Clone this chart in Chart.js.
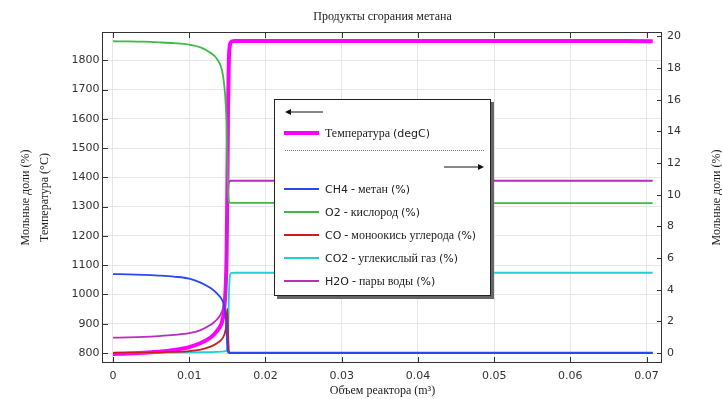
<!DOCTYPE html>
<html>
<head>
<meta charset="utf-8">
<script src="https://cdn.jsdelivr.net/npm/chart.js"></script>
<style>
body { margin: 0; background: #fff; }
#wrap { position: relative; width: 722px; height: 399px; }
#legend {
  position: absolute; left: 274px; top: 99px; width: 215px; height: 195px;
  background: #fff; border: 1px solid #222; box-shadow: 3px 3px 0 #666;
  font: 12px "Liberation Serif", serif; color: #222;
}
.row { position: absolute; left: 9px; height: 16px; display: flex; align-items: center; white-space: nowrap; }
.swatch { width: 35px; margin-right: 6px; }
.lat { font-family: "DejaVu Sans", sans-serif; font-size: 11px; }
.dots { position: absolute; left: 10px; width: 199px; top: 50px; border-top: 1px dotted #777; }
svg { position: absolute; }
</style>
</head>
<body>
<div id="wrap">
  <canvas id="chart" width="722" height="399"></canvas>
  <div id="legend"></div>
</div>
<script>
// reactor volume, m3
const volume = [0, 0.002, 0.004, 0.006, 0.008, 0.010, 0.0115, 0.0128, 0.0136, 0.0143, 0.0146, 0.0148,
  0.0149, 0.0150, 0.0151, 0.0152, 0.0153, 0.0154, 0.0156, 0.0160, 0.02, 0.03, 0.04, 0.05, 0.06, 0.0708];

// temperature, degC (left axis)
const temperature = [797, 798.5, 801, 804, 810, 820, 834, 853, 874, 906, 952, 1035,
  1130, 1350, 1650, 1800, 1845, 1858, 1864, 1866, 1866, 1866, 1866, 1866, 1866, 1865];

// mole fractions, % (right axis)
const ch4 = [4.98, 4.97, 4.94, 4.89, 4.82, 4.70, 4.45, 4.10, 3.78, 3.36, 2.95, 2.20,
  1.40, 0.35, 0.05, 0.01, 0, 0, 0, 0, 0, 0, 0, 0, 0, 0];
const o2 = [19.69, 19.68, 19.66, 19.62, 19.57, 19.48, 19.30, 18.95, 18.60, 17.86, 16.90, 15.60,
  14.30, 12.00, 10.20, 9.60, 9.50, 9.49, 9.48, 9.48, 9.48, 9.48, 9.48, 9.47, 9.47, 9.47];
const co = [0.01, 0.02, 0.03, 0.05, 0.07, 0.12, 0.22, 0.40, 0.60, 0.88, 1.15, 1.55,
  2.10, 2.80, 1.20, 0.15, 0.05, 0.03, 0.03, 0.03, 0.03, 0.03, 0.03, 0.03, 0.03, 0.03];
const co2 = [0.02, 0.02, 0.02, 0.03, 0.03, 0.04, 0.05, 0.06, 0.07, 0.09, 0.10, 0.12,
  0.14, 0.30, 0.80, 3.50, 4.70, 4.98, 5.06, 5.07, 5.07, 5.07, 5.07, 5.07, 5.07, 5.07];
const h2o = [0.97, 0.99, 1.02, 1.07, 1.14, 1.25, 1.45, 1.78, 2.10, 2.62, 3.20, 4.10,
  5.20, 7.80, 10.20, 10.75, 10.85, 10.88, 10.88, 10.88, 10.88, 10.88, 10.88, 10.88, 10.88, 10.88];

const xTicks = [0, 0.01, 0.02, 0.03, 0.04, 0.05, 0.06, 0.07];
const tempTicks = [800, 900, 1000, 1100, 1200, 1300, 1400, 1500, 1600, 1700, 1800];
const fracTicks = [0, 2, 4, 6, 8, 10, 12, 14, 16, 18, 20];

const series = [
  { label: 'CH4 - метан (%)', data: ch4, color: '#2a48f0' },
  { label: 'O2 - кислород (%)', data: o2, color: '#3cba44' },
  { label: 'CO - моноокись углерода (%)', data: co, color: '#cc1c1c' },
  { label: 'CO2 - углекислый газ (%)', data: co2, color: '#22cfd2' },
  { label: 'H2O - пары воды (%)', data: h2o, color: '#b82cc0' }
];

const toPoints = ys => volume.map((x, i) => ({ x: x, y: ys[i] }));

const datasets = series.map(s => ({
  label: s.label,
  data: toPoints(s.data),
  borderColor: s.color,
  borderWidth: 1.8,
  yAxisID: 'y1',
  order: 1
}));
datasets.push({
  label: 'Температура (degC)',
  data: toPoints(temperature),
  borderColor: '#ff00ff',
  borderWidth: 4,
  yAxisID: 'y',
  order: 2
});

const serif = '"Liberation Serif", serif';
const sans = '"DejaVu Sans", sans-serif';

const framePlugin = {
  id: 'frame',
  afterDatasetsDraw(chart) {
    const { ctx, chartArea: a, scales } = chart;
    const r = v => Math.round(v) + 0.5;
    ctx.save();
    ctx.strokeStyle = '#333';
    ctx.lineWidth = 1;
    ctx.beginPath();
    xTicks.forEach(v => {
      const px = r(scales.x.getPixelForValue(v));
      ctx.moveTo(px, a.bottom); ctx.lineTo(px, a.bottom - 5);
      ctx.moveTo(px, a.top); ctx.lineTo(px, a.top + 5);
    });
    tempTicks.forEach(v => {
      const py = r(scales.y.getPixelForValue(v));
      ctx.moveTo(a.left - 1, py); ctx.lineTo(a.left + 5, py);
    });
    fracTicks.forEach(v => {
      const py = r(scales.y1.getPixelForValue(v));
      ctx.moveTo(a.right - 5, py); ctx.lineTo(a.right, py);
    });
    ctx.stroke();
    ctx.strokeRect(r(a.left) - 1, r(a.top) - 1, Math.round(a.right - a.left), Math.round(a.bottom - a.top) + 1);
    // right axis title, reading bottom to top
    ctx.fillStyle = '#222';
    ctx.font = '12px ' + serif;
    ctx.textAlign = 'center';
    ctx.textBaseline = 'middle';
    ctx.translate(chart.width - 5, (a.top + a.bottom) / 2);
    ctx.rotate(-Math.PI / 2);
    ctx.fillText('Мольные доли (%)', 0, 0);
    ctx.restore();
  }
};

new Chart(document.getElementById('chart'), {
  type: 'line',
  data: { datasets: datasets },
  plugins: [framePlugin],
  options: {
    responsive: false,
    animation: false,
    layout: { padding: 0 },
    elements: {
      point: { radius: 0 },
      line: { cubicInterpolationMode: 'monotone', fill: false }
    },
    plugins: {
      legend: { display: false },
      tooltip: { enabled: false },
      title: {
        display: true,
        fullSize: false,
        text: 'Продукты сгорания метана',
        color: '#222',
        font: { family: serif, size: 12, weight: 'normal', lineHeight: 1.2 },
        padding: { top: 10, bottom: 8.6 }
      }
    },
    scales: {
      x: {
        type: 'linear',
        min: -0.00131,
        max: 0.07202,
        afterFit: s => { s.height = 37; },
        afterBuildTicks: s => { s.ticks = xTicks.map(v => ({ value: v })); },
        grid: { color: '#e6e6e6', drawTicks: false },
        border: { display: false },
        ticks: {
          padding: 8,
          color: '#333',
          font: { family: sans, size: 11 },
          callback: v => String(+v.toFixed(2))
        },
        title: {
          display: true,
          text: 'Объем реактора (m³)',
          color: '#222',
          font: { family: serif, size: 12, lineHeight: 1.2 },
          padding: { top: 0, bottom: 1 }
        }
      },
      y: {
        position: 'left',
        min: 769.3,
        max: 1893,
        afterFit: s => { s.width = 103; },
        afterBuildTicks: s => { s.ticks = tempTicks.map(v => ({ value: v })); },
        grid: { color: '#e6e6e6', drawTicks: false },
        border: { display: false },
        ticks: { padding: 3.5, color: '#333', font: { family: sans, size: 11 }, callback: v => String(v) },
        title: {
          display: true,
          text: ['Мольные доли (%)', 'Температура (°C)'],
          color: '#222',
          font: { family: serif, size: 12, lineHeight: 1.55 },
          padding: { top: 16.7, bottom: 0 }
        }
      },
      y1: {
        position: 'right',
        min: -0.567,
        max: 20.21,
        afterFit: s => { s.width = 60; },
        afterBuildTicks: s => { s.ticks = fracTicks.map(v => ({ value: v })); },
        grid: { display: false, drawTicks: false },
        border: { display: false },
        ticks: { padding: 5, color: '#333', font: { family: sans, size: 11 }, callback: v => String(v) }
      }
    }
  }
});

// legend box with axis arrows
const legend = document.getElementById('legend');
const latin = t => t.replace(/[A-Za-z0-9()%]+/g, m => '<span class="lat">' + m + '</span>');
const addRow = (centerY, label, color, width) => {
  const row = document.createElement('div');
  row.className = 'row';
  row.style.top = (centerY - 8) + 'px';
  row.innerHTML = '<div class="swatch" style="border-top:' + width + 'px solid ' + color + '"></div>' +
    '<span>' + latin(label) + '</span>';
  legend.appendChild(row);
};
legend.innerHTML =
  '<svg style="left:10px;top:7px" width="40" height="10"><line x1="4" y1="5" x2="38" y2="5" stroke="#111" stroke-width="1"/>' +
  '<polygon points="0,5 6,2 6,8" fill="#111"/></svg>' +
  '<div class="dots"></div>' +
  '<svg style="left:169px;top:62px" width="41" height="10"><line x1="0" y1="5" x2="35" y2="5" stroke="#111" stroke-width="1"/>' +
  '<polygon points="40,5 34,2 34,8" fill="#111"/></svg>';
const tempSet = datasets[datasets.length - 1];
addRow(33, tempSet.label, tempSet.borderColor, 4);
series.forEach((s, i) => addRow(89 + i * 23, s.label, s.color, 2));
</script>
</body>
</html>
